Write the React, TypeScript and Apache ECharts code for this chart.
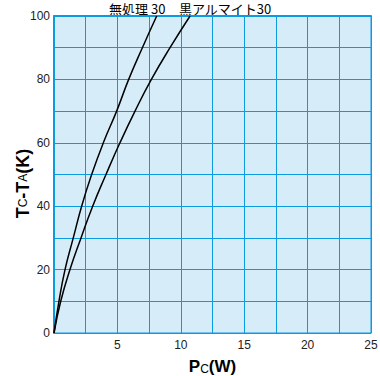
import React, { useEffect, useRef } from "react";
import * as echarts from "echarts";

const xTicks = [0, 2.5, 5, 7.5, 10, 12.5, 15, 17.5, 20, 22.5, 25];
const seriesNames = ["無処理 30", "黒アルマイト30"];
const untreatedX = [0, 0.39, 0.87, 1.52, 2.18, 2.97, 3.89, 4.94, 5.89, 6.97, 8.1];
const untreatedY = [0, 10, 20, 30, 40, 50, 60, 70, 80, 90, 100];
const blackX = [0, 0.53, 1.26, 2.13, 3.05, 4.1, 5.2, 6.39, 7.68, 9.15, 10.73];
const blackY = [0, 10, 20, 30, 40, 50, 60, 70, 80, 90, 100];

const BLUE = "#0a9be0";
const BG = "#d6ecf9";
const FONT = "'Liberation Sans', Arial, sans-serif";
const JP = "'Noto Sans CJK JP', sans-serif";

export default function App() {
  const ref = useRef<HTMLDivElement>(null);
  useEffect(() => {
    if (!ref.current) return;
    const chart = echarts.init(ref.current, undefined, { renderer: "svg" });
    const pairs = (xs: number[], ys: number[]) => xs.map((x, i) => [x, ys[i]]);
    chart.setOption({
      animation: false,
      backgroundColor: "#ffffff",
      grid: {
        left: 54,
        right: 9,
        top: 16,
        bottom: 43,
        containLabel: false,
        outerBoundsMode: "none",
        show: true,
        backgroundColor: BG,
        borderColor: BLUE,
        borderWidth: 1,
      },
      xAxis: [
        {
          type: "value",
          min: xTicks[0],
          max: xTicks[xTicks.length - 1],
          interval: 2.5,
          axisLine: { show: true, lineStyle: { color: BLUE, width: 1 } },
          axisTick: { show: false },
          splitLine: { show: true, lineStyle: { color: BLUE, width: 1 } },
          axisLabel: {
            color: "#222",
            fontFamily: FONT,
            fontSize: 12,
            margin: 6,
            formatter: (v: number) => (v !== 0 && v % 5 === 0 ? String(v) : ""),
          },
          name: "{b|P}{s|C}{b|(W)}",
          nameLocation: "middle",
          nameGap: 25,
          nameMoveOverlap: false,
          nameTextStyle: {
            rich: {
              b: { fontSize: 17, fontFamily: FONT, color: "#000", fontWeight: "bold" },
              s: { fontSize: 12, fontFamily: FONT, color: "#000", verticalAlign: "bottom" },
            },
          },
        },
        {
          type: "value",
          position: "top",
          min: xTicks[0],
          max: xTicks[xTicks.length - 1],
          interval: 2.5,
          axisLine: { show: true, lineStyle: { color: BLUE, width: 2 } },
          axisTick: { show: false },
          axisLabel: { show: false },
          splitLine: { show: false },
        },
      ],
      yAxis: {
        type: "value",
        min: 0,
        max: 100,
        interval: 10,
        axisLine: { show: true, lineStyle: { color: BLUE, width: 2 } },
        axisTick: { show: false },
        splitLine: { show: true, lineStyle: { color: BLUE, width: 1 } },
        axisLabel: {
          color: "#222",
          fontFamily: FONT,
          fontSize: 12,
          margin: 4,
          formatter: (v: number) => (v % 20 === 0 ? String(v) : ""),
        },
        name: "{b|T}{s|C}{b|-T}{s|A}{b|(K)}{sp| }",
        nameLocation: "middle",
        nameGap: 22,
        nameRotate: 90,
        nameMoveOverlap: false,
        nameTextStyle: {
          rich: {
            b: { fontSize: 18, fontFamily: FONT, color: "#000", fontWeight: "bold" },
            s: { fontSize: 12, fontFamily: FONT, color: "#000" },
            sp: { width: 18, fontSize: 12 },
          },
        },
      },
      series: [
        {
          name: seriesNames[0],
          type: "line",
          smooth: true,
          showSymbol: false,
          lineStyle: { color: "#000", width: 1.5 },
          data: pairs(untreatedX, untreatedY),
        },
        {
          name: seriesNames[1],
          type: "line",
          smooth: true,
          showSymbol: false,
          lineStyle: { color: "#000", width: 1.5 },
          data: pairs(blackX, blackY),
        },
      ],
      graphic: [
        {
          type: "text",
          left: 109,
          top: 2,
          style: { text: seriesNames[0], fontSize: 13, fontFamily: JP, fill: "#000" },
        },
        {
          type: "text",
          left: 179,
          top: 2,
          style: { text: seriesNames[1], fontSize: 13, fontFamily: JP, fill: "#000" },
        },
      ],
    });
    return () => chart.dispose();
  }, []);
  return (
    <div
      ref={ref}
      style={{ position: "fixed", left: 0, top: 0, width: 380, height: 376 }}
    />
  );
}
